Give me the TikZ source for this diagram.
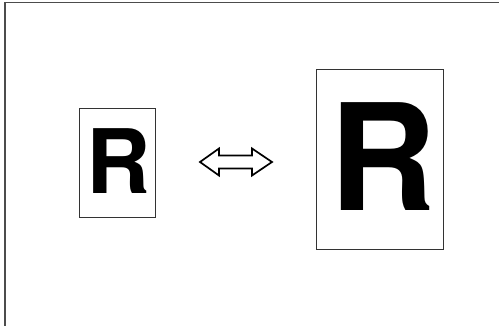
\documentclass[tikz,border=0pt]{standalone}
\usepackage{fontspec}
\setmainfont{TeX Gyre Heros}
\begin{document}
\begin{tikzpicture}[x=1pt,y=-1pt,
  page/.style={draw=black!80,line width=0.9pt,fill=white},
  letter/.style={inner sep=0pt,font=\bfseries}]
\path[use as bounding box] (0,0) rectangle (499,326);
\clip (0,0) rectangle (499,326);
\draw[draw=black!70,line width=1.4pt] (5,2.5) rectangle (510,340);
\draw[page] (79,108) rectangle (155,217);
\node[letter,font=\bfseries\fontsize{89}{89}\selectfont] (r1) at (119,161) {R};
\draw[page] (316,69) rectangle (443,249);
\node[letter,font=\bfseries\fontsize{148}{148}\selectfont] (r2) at (383,157) {R};
\draw[line width=1.7pt,fill=white,line join=miter]
  (200,162) -- (219,148.5) -- (219,155.5) -- (252,155.5) -- (252,148.5) -- (272,162)
  -- (252,175.5) -- (252,168.5) -- (219,168.5) -- (219,175.5) -- cycle;
\end{tikzpicture}
\end{document}
